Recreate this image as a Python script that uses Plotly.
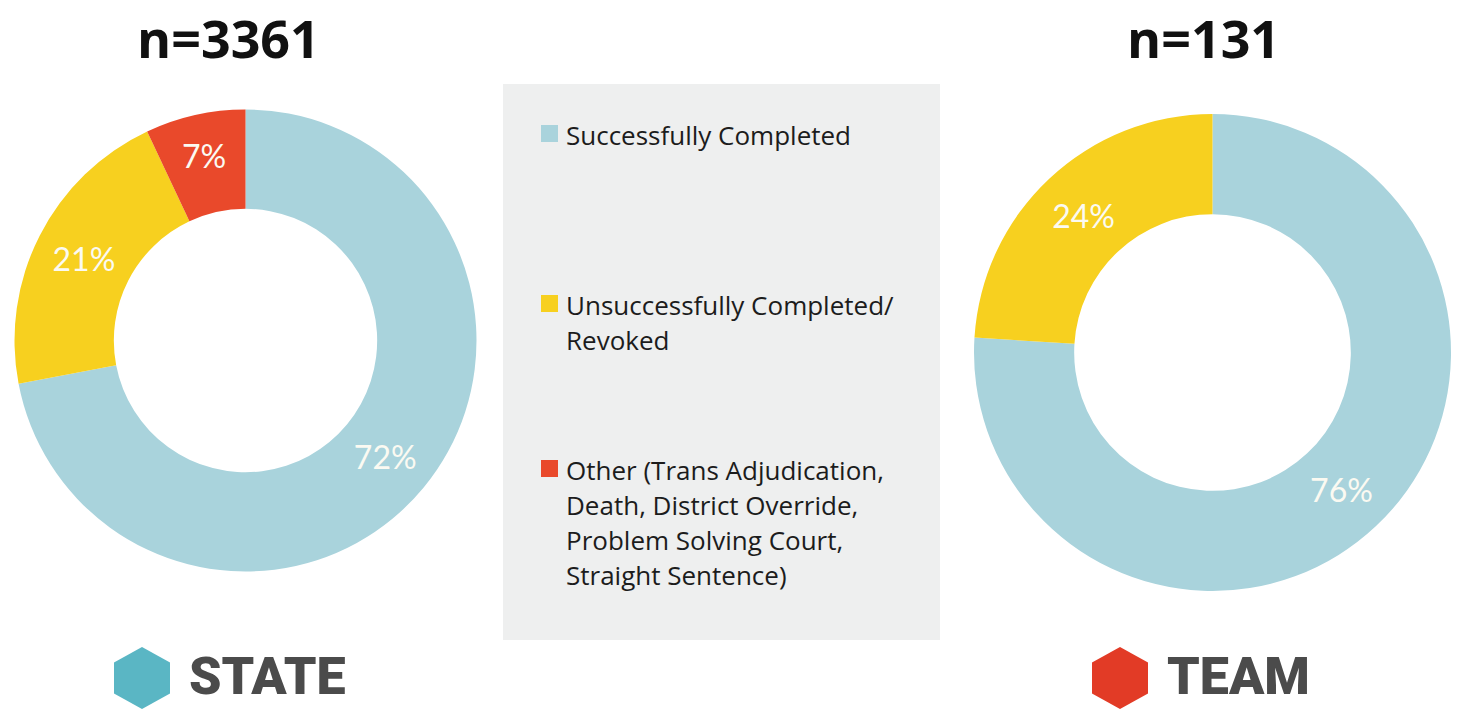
import plotly.graph_objects as go

# Outcome categories and their colours
categories = [
    "Successfully Completed",
    "Unsuccessfully Completed/",
    "Other (Trans Adjudication,",
]
legend_lines = [
    ["Successfully Completed"],
    ["Unsuccessfully Completed/", "Revoked"],
    ["Other (Trans Adjudication,", "Death, District Override,",
     "Problem Solving Court,", "Straight Sentence)"],
]
colors = ["#a9d3dc", "#f7d01f", "#e9492b"]

# Percent shares for each group
state_values = [72, 21, 7]
team_values = [76, 24]
state_n = 3361
team_n = 131

W, H = 1463, 709


def px_domain(cx, cy, r):
    return dict(x=[(cx - r) / W, (cx + r) / W],
                y=[(H - cy - r) / H, (H - cy + r) / H])


fig = go.Figure()

pie_common = dict(
    sort=False,
    direction="clockwise",
    rotation=0,
    textposition="inside",
    insidetextorientation="horizontal",
    texttemplate="%{value}%",
    insidetextfont=dict(family="Lato", size=32, color="#fbfaf2"),
    showlegend=False,
    hoverinfo="label+value",
)

fig.add_trace(go.Pie(
    labels=categories, values=state_values, hole=0.57,
    marker=dict(colors=colors, line=dict(width=0)),
    domain=px_domain(245.5, 340.5, 231), **pie_common))
fig.add_trace(go.Pie(
    labels=categories[:2], values=team_values, hole=0.58,
    marker=dict(colors=colors[:2], line=dict(width=0)),
    domain=px_domain(1212.5, 352.5, 238.5), **pie_common))

shapes = []
annotations = []

# Legend panel
shapes.append(dict(type="rect", xref="x", yref="y", x0=503, x1=940, y0=84, y1=640,
                   fillcolor="#eeefef", line=dict(width=0), layer="below"))
first_line_y = [135, 305, 470]
line_gap = 35
for color, lines, y0 in zip(colors, legend_lines, first_line_y):
    shapes.append(dict(type="rect", xref="x", yref="y", x0=541, x1=558,
                       y0=y0 - 10, y1=y0 + 7, fillcolor=color, line=dict(width=0)))
    for i, line in enumerate(lines):
        annotations.append(dict(x=564, y=y0 + i * line_gap, xref="x", yref="y",
                                text=line, showarrow=False, xanchor="left",
                                yanchor="middle",
                                font=dict(family="Open Sans", size=26, color="#1c1c1c")))

# Sample size headings
annotations.append(dict(x=228, y=0, xref="x", yref="y", text=f"n={state_n}",
                        showarrow=False, xanchor="center", yanchor="top",
                        font=dict(family="Open Sans", size=52, color="#111111",
                                  weight="bold")))
annotations.append(dict(x=1203, y=0, xref="x", yref="y", text=f"n={team_n}",
                        showarrow=False, xanchor="center", yanchor="top",
                        font=dict(family="Open Sans", size=52, color="#111111",
                                  weight="bold")))


def hexagon(cx, cy, hw, hh):
    q = hh / 2
    pts = [(cx, cy - hh), (cx + hw, cy - q), (cx + hw, cy + q),
           (cx, cy + hh), (cx - hw, cy + q), (cx - hw, cy - q)]
    return "M" + " L".join(f"{x},{y}" for x, y in pts) + " Z"


group_names = ["STATE", "TEAM"]
hex_colors = ["#5ab6c4", "#e23b26"]
hex_centers = [(142, 678), (1120, 678)]
for name, hc, (cx, cy) in zip(group_names, hex_colors, hex_centers):
    shapes.append(dict(type="path", xref="x", yref="y", path=hexagon(cx, cy, 28, 31),
                       fillcolor=hc, line=dict(width=0)))
    annotations.append(dict(x=cx + 45, y=709, xref="x", yref="y", text=name,
                            showarrow=False, xanchor="left", yanchor="bottom",
                            font=dict(family="Roboto", size=52,
                                      color="#4b4b4b", weight=900)))

fig.update_layout(
    width=W, height=H, autosize=False,
    margin=dict(l=0, r=0, t=0, b=0),
    paper_bgcolor="white", plot_bgcolor="rgba(0,0,0,0)",
    xaxis=dict(range=[0, W], visible=False, fixedrange=True, domain=[0, 1]),
    yaxis=dict(range=[H, 0], visible=False, fixedrange=True, domain=[0, 1]),
    shapes=shapes, annotations=annotations,
)

fig.write_html("out.html")
